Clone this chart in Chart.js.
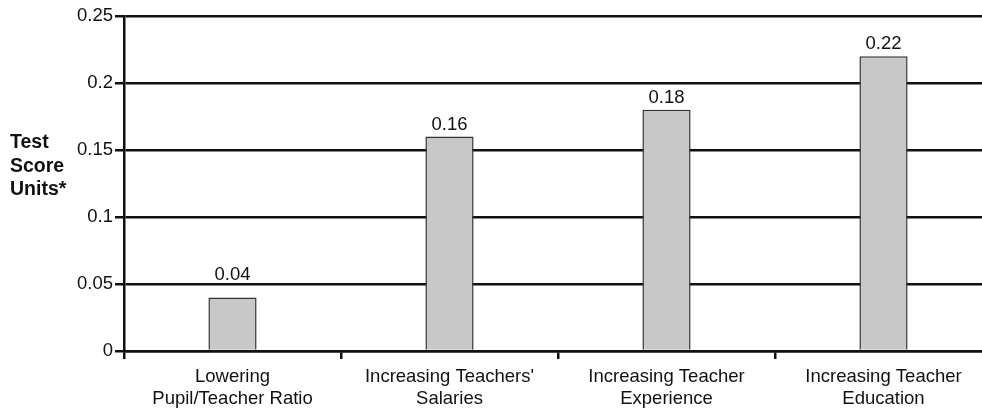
<!DOCTYPE html>
<html>
<head>
<meta charset="utf-8">
<script src="https://cdn.jsdelivr.net/npm/chart.js@4.4.1/dist/chart.umd.min.js"></script>
<style>
  html, body { margin: 0; padding: 0; background: #fff; overflow: hidden; }
  #wrap { width: 982px; height: 410px; overflow: hidden; }
</style>
</head>
<body>
<div id="wrap"><canvas id="grafico" width="992" height="410"></canvas></div>
<script>
const categorias = [
  ['Lowering', 'Pupil/Teacher Ratio'],
  ["Increasing Teachers'", 'Salaries'],
  ['Increasing Teacher', 'Experience'],
  ['Increasing Teacher', 'Education']
];
const valores = [0.04, 0.16, 0.18, 0.22];
const rotulosValores = ['0.04', '0.16', '0.18', '0.22'];
const ticksY = [0, 0.05, 0.1, 0.15, 0.2, 0.25];
const rotulosTicksY = ['0', '0.05', '0.1', '0.15', '0.2', '0.25'];
const tituloY = ['Test', 'Score', 'Units*'];

const fonte = '"Liberation Sans", Arial, sans-serif';
const corTexto = '#111';

// rotulos acima das barras e titulo do eixo y
const pluginRotulos = {
  id: 'rotulos',
  afterDatasetsDraw(chart) {
    const ctx = chart.ctx;
    const meta = chart.getDatasetMeta(0);
    const escalaY = chart.scales.y;
    const linhas = ticksY.map(v => escalaY.getPixelForValue(v));
    ctx.save();
    ctx.font = '18.5px ' + fonte;
    ctx.fillStyle = corTexto;
    ctx.textAlign = 'center';
    ctx.textBaseline = 'alphabetic';
    meta.data.forEach(function(barra, i) {
      let base = barra.y - 7;
      // se o rotulo cair em cima de uma linha de grade, sobe ele
      linhas.forEach(function(ly) {
        if (ly > base - 14 && ly < base + 4) base = ly - 4;
      });
      ctx.fillText(rotulosValores[i], barra.x, base);
    });
    ctx.font = 'bold 19.5px ' + fonte;
    ctx.textAlign = 'left';
    tituloY.forEach(function(linha, i) {
      ctx.fillText(linha, 10, 148 + i * 23.5);
    });
    ctx.restore();
  }
};

const ctx = document.getElementById('grafico').getContext('2d');
new Chart(ctx, {
  type: 'bar',
  data: {
    labels: categorias,
    datasets: [{
      data: valores,
      backgroundColor: '#c8c8c8',
      borderColor: '#333',
      borderWidth: 1.5,
      barPercentage: 0.222,
      categoryPercentage: 1
    }]
  },
  options: {
    responsive: false,
    animation: false,
    layout: { padding: { top: 16, left: 0, right: 0, bottom: 0 } },
    plugins: {
      legend: { display: false },
      tooltip: { enabled: false }
    },
    scales: {
      x: {
        grid: {
          drawOnChartArea: false,
          drawTicks: true,
          tickLength: 8,
          color: '#111',
          lineWidth: 2.5
        },
        border: { color: '#111', width: 2.5 },
        ticks: {
          color: corTexto,
          font: { family: fonte, size: 18.5, lineHeight: 1.2 },
          padding: 7,
          maxRotation: 0,
          autoSkip: false
        },
        afterFit(scale) { scale.height = 59; }
      },
      y: {
        min: 0,
        max: 0.25,
        afterBuildTicks(scale) {
          scale.ticks = ticksY.map(v => ({ value: v }));
        },
        grid: {
          color: '#111',
          lineWidth: 2.5,
          tickLength: 9,
          drawTicks: true
        },
        border: { color: '#111', width: 2.5 },
        ticks: {
          color: corTexto,
          font: { family: fonte, size: 18.5 },
          padding: 2,
          callback: (v, i) => rotulosTicksY[i]
        },
        afterFit(scale) { scale.width = 124; }
      }
    }
  },
  plugins: [pluginRotulos]
});
</script>
</body>
</html>
